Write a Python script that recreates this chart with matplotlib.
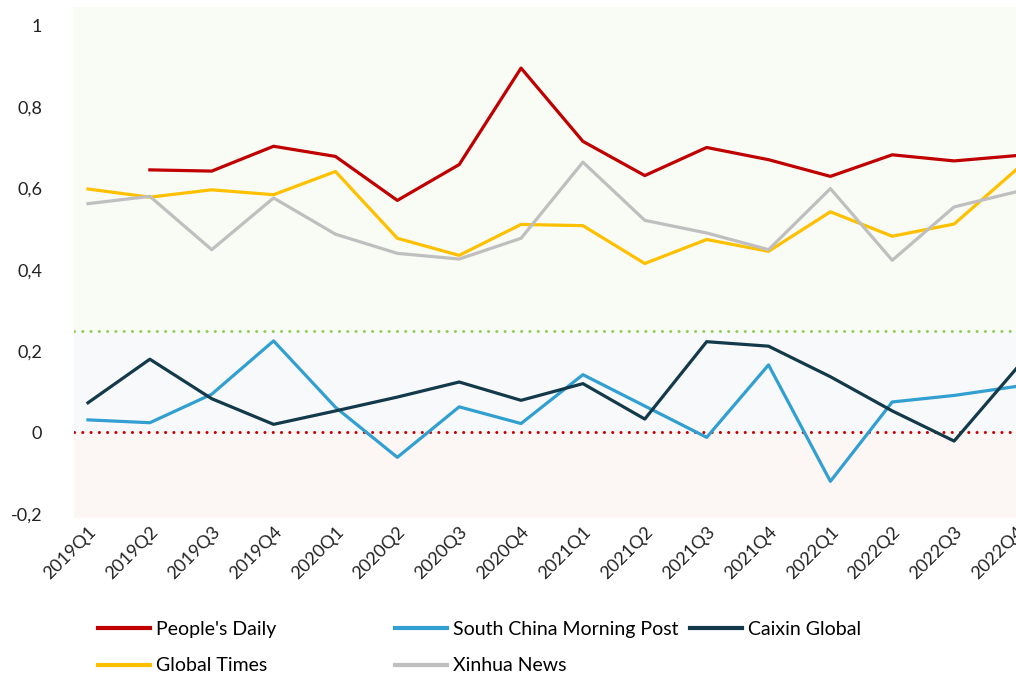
import matplotlib
matplotlib.use('Agg')
import matplotlib.pyplot as plt
import numpy as np

plt.rcParams['font.family'] = ['Lato', 'DejaVu Sans']

# 분기 라벨
quarters = ['2019Q1', '2019Q2', '2019Q3', '2019Q4',
            '2020Q1', '2020Q2', '2020Q3', '2020Q4',
            '2021Q1', '2021Q2', '2021Q3', '2021Q4',
            '2022Q1', '2022Q2', '2022Q3', '2022Q4']

# 매체별 값
peoples_daily = [np.nan, 0.645, 0.642, 0.703, 0.678, 0.570, 0.658, 0.895,
                 0.715, 0.631, 0.700, 0.670, 0.629, 0.682, 0.667, 0.680]
global_times = [0.598, 0.578, 0.596, 0.584, 0.641, 0.477, 0.435, 0.511,
                0.508, 0.415, 0.474, 0.445, 0.542, 0.482, 0.512, 0.645]
xinhua = [0.562, 0.580, 0.449, 0.576, 0.487, 0.440, 0.426, 0.477,
          0.664, 0.521, 0.490, 0.449, 0.599, 0.423, 0.554, 0.591]
scmp = [0.031, 0.024, 0.094, 0.225, 0.062, -0.061, 0.063, 0.022,
        0.142, 0.065, -0.012, 0.166, -0.120, 0.075, 0.091, 0.113]
caixin = [0.073, 0.180, 0.083, 0.020, 0.053, 0.087, 0.124, 0.079,
          0.120, 0.033, 0.223, 0.212, 0.137, 0.053, -0.021, 0.156]

# 기준선
upper_ref = 0.25
zero_ref = 0.0

yticks = [-0.2, 0, 0.2, 0.4, 0.6, 0.8, 1.0]
ytick_labels = ['-0,2', '0', '0,2', '0,4', '0,6', '0,8', '1']

fig = plt.figure(figsize=(10.16, 6.74), dpi=100)
ax = fig.add_axes([74 / 1016, 1 - 518 / 674, 1 - 74 / 1016, (518 - 7) / 674])

x = np.arange(len(quarters))
xmin, xmax = -0.226, 14.97
ymin, ymax = -0.21, 1.045

# 배경 영역
ax.axhspan(upper_ref, ymax, color='#f9fbf5', zorder=0)
ax.axhspan(zero_ref, upper_ref, color='#f8f9fa', zorder=0)
ax.axhspan(ymin, zero_ref, color='#fcf6f5', zorder=0)

ax.axhline(upper_ref, color='#92d050', lw=2.2, ls=(0, (0.01, 2.7)),
           dash_capstyle='round', zorder=1)
ax.axhline(zero_ref, color='#c00000', lw=2.2, ls=(0, (0.01, 2.7)),
           dash_capstyle='round', zorder=1)

lw = 2.3
l_pd, = ax.plot(x, peoples_daily, color='#c00000', lw=lw, label="People's Daily")
l_gt, = ax.plot(x, global_times, color='#ffc000', lw=lw, label='Global Times')
l_xh, = ax.plot(x, xinhua, color='#bfbfbf', lw=lw, label='Xinhua News')
l_sc, = ax.plot(x, scmp, color='#31a0d1', lw=lw, label='South China Morning Post')
l_cx, = ax.plot(x, caixin, color='#133a4a', lw=lw, label='Caixin Global')

ax.set_xlim(xmin, xmax)
ax.set_ylim(ymin, ymax)
ax.set_yticks(yticks)
ax.set_yticklabels(ytick_labels, fontsize=13, color='#222222')
ax.set_xticks(x)
ax.set_xticklabels(quarters, rotation=45, ha='right', rotation_mode='anchor',
                   fontsize=13, color='#222222')
ax.tick_params(axis='both', length=0)
ax.tick_params(axis='y', pad=23)
ax.tick_params(axis='x', pad=4)
for s in ax.spines.values():
    s.set_visible(False)

# 범례 (세 열을 따로 배치)
leg_kw = dict(loc='upper left', frameon=False, fontsize=14, borderpad=0,
              handlelength=2.67, handletextpad=0.3, labelspacing=1.0,
              borderaxespad=0)
groups = [([l_pd, l_gt], 98), ([l_sc, l_xh], 395), ([l_cx], 690)]
for handles, xpos in groups:
    leg = fig.legend(handles=handles, labels=[h.get_label() for h in handles],
                     bbox_to_anchor=(xpos / 1016, 1 - 621 / 674), **leg_kw)
    for line in leg.get_lines():
        line.set_linewidth(3)

fig.savefig('out.png', dpi=100)
